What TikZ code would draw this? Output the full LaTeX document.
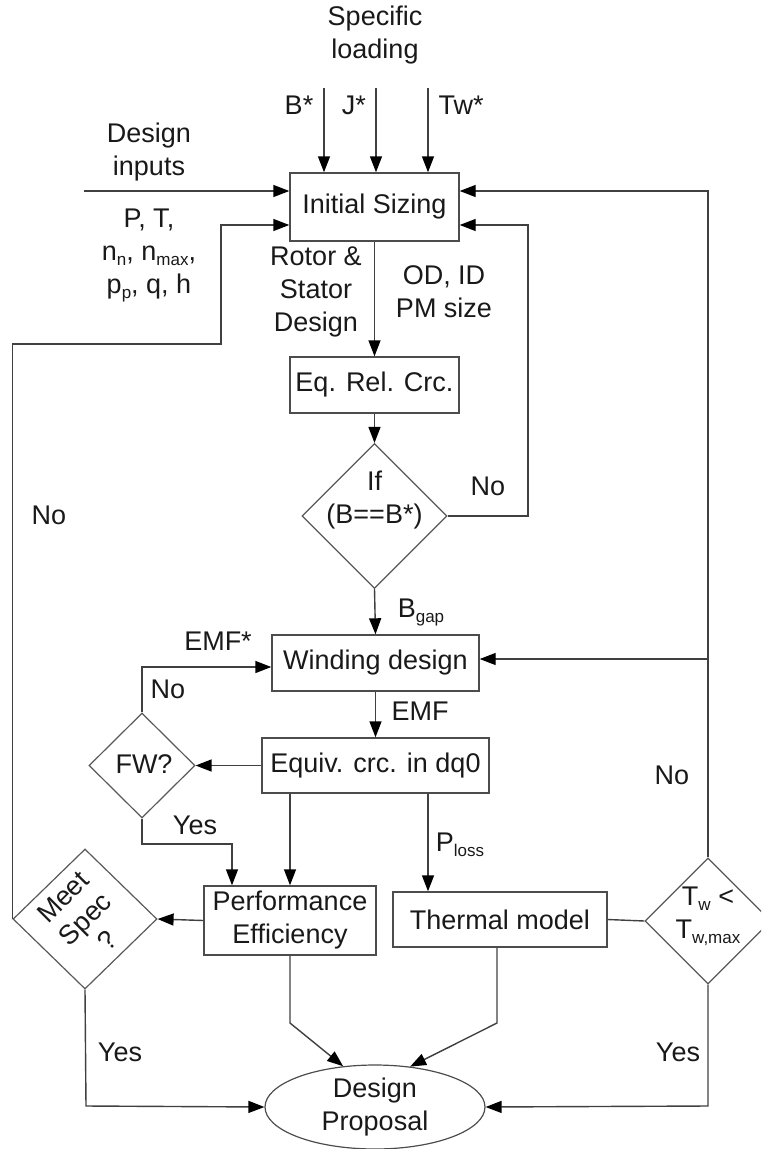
\documentclass[tikz,border=0pt]{standalone}
\usepackage{fontspec}
\setmainfont{Liberation Sans}
\usetikzlibrary{shapes.geometric,arrows.meta}
\newcommand\sbs[1]{\raisebox{-0.35ex}{\fontsize{17}{17}\selectfont #1}}
\begin{document}
\begin{tikzpicture}[x=1pt,y=-1pt,
  every node/.style={font=\fontsize{27}{33}\selectfont, text=black!90},
  box/.style={draw=black!70, line width=1.4pt, inner sep=0pt, align=center},
  dia/.style={draw=black!65, line width=1.2pt, shape=diamond, inner sep=0pt},
  lbl/.style={align=center, inner sep=0pt},
  ln/.style={draw=black!75, line width=1.4pt},
  arr/.style={ln, -{Triangle[length=16pt,width=12pt,color=black]}}]
\useasboundingbox (0,0) rectangle (761,1149);
\clip (0,0) rectangle (761,1149);

% boxes
\node[box, minimum width=169pt, minimum height=68pt] (init) at (374.5,207) {Initial Sizing};
\node[box, minimum width=169pt, minimum height=56pt] (eq) at (374.5,385) {Eq. Rel. Crc.};
\node[dia, minimum width=145pt, minimum height=145pt] (ifd) at (374.5,516) {};
\node[lbl] (ifdt) at (374.5,500) {If\\(B==B*)};
\node[box, minimum width=207pt, minimum height=56pt] (wind) at (375.5,663) {Winding design};
\node[box, minimum width=227pt, minimum height=55pt] (equiv) at (375.5,765.5) {Equiv. crc. in dq0};
\node[dia, minimum width=106pt, minimum height=105pt] (fw) at (142,765.5) {};
\node[lbl] (fwt) at (144,764) {FW?};
\node[box, minimum width=172pt, minimum height=69pt] (perf) at (290,920.5) {Performance\\Efficiency};
\node[box, minimum width=214pt, minimum height=55pt] (therm) at (500,919.5) {Thermal model};
\node[dia, minimum width=126pt, minimum height=126pt] (tw) at (708,921) {};
\node[lbl] (twt) at (708,916) {T\sbs{w} <\\T\sbs{w,max}};
\node[dia, minimum width=144pt, minimum height=140pt] (meet) at (85,919) {};
\node[lbl, rotate=45, font=\fontsize{27}{31}\selectfont] (meett) at (85,919) {Meet\\Spec\\?};
\node[draw=black!70, line width=1.2pt, ellipse, inner sep=0pt, minimum width=220pt, minimum height=84pt] (dp) at (375,1107) {};
\node[lbl] (dpt) at (375,1107) {Design\\Proposal};

% free labels
\node[lbl] (spec) at (375,35) {Specific\\loading};
\node[lbl] (bs) at (299,105) {B*};
\node[lbl] (js) at (354,105) {J*};
\node[lbl] (tws) at (461,105) {Tw*};
\node[lbl] (din) at (149,152) {Design\\inputs};
\node[lbl] (pt) at (149,255) {P, T,\\n\sbs{n}, n\sbs{max},\\p\sbs{p}, q, h};
\node[lbl] (rsd) at (316,292) {Rotor \&\\Stator\\Design};
\node[lbl] (odid) at (444,292) {OD, ID\\PM size};
\node[lbl] (no1) at (488,486) {No};
\node[lbl] (bgap) at (421,612) {B\sbs{gap}};
\node[lbl] (emfs) at (218,641) {EMF*};
\node[lbl] (no2) at (168,689) {No};
\node[lbl] (emf) at (420,711) {EMF};
\node[lbl] (no3) at (49,515) {No};
\node[lbl] (no4) at (672,775) {No};
\node[lbl] (yes1) at (195,825) {Yes};
\node[lbl] (ploss) at (460,845) {P\sbs{loss}};
\node[lbl] (yes2) at (120,1052) {Yes};
\node[lbl] (yes3) at (678,1052) {Yes};

% coordinates
\coordinate (tB) at (324,88);
\coordinate (tJ) at (376,88);
\coordinate (tT) at (428,88);
\coordinate (din0) at (84,191);
\coordinate (rl) at (528,225);
\coordinate (rr) at (708,191);
\coordinate (rw) at (708,659);
\coordinate (ll) at (13,344);
\coordinate (lu) at (221,225);
\coordinate (fwn) at (142,667);
\coordinate (fwy) at (232,844);
\coordinate (pl) at (428,0);
\coordinate (pd) at (290,1023);
\coordinate (td) at (497,1023);
\coordinate (ly) at (86,1106);
\coordinate (ry) at (708,1106);

% connectors
\draw[arr] (tB) -- (tB |- init.north);
\draw[arr] (tJ) -- (tJ |- init.north);
\draw[arr] (tT) -- (tT |- init.north);
\draw[arr] (din0) -- (din0 -| init.west);
\draw[arr] (init.south) -- (eq.north);
\draw[arr] (eq.south) -- (ifd.north);
\draw[arr] (ifd.east) -| (rl) -- (rl -| init.east);
\draw[arr] (ifd.south) -- (wind.north);
\draw[arr] (tw.north) -- (rr) -- (rr -| init.east);
\draw[arr] (rw) -- (rw -| wind.east);
\draw[arr] (wind.south) -- (equiv.north);
\draw[arr] (equiv.west) -- (fw.east);
\draw[arr] (fw.north) -- (fwn) -- (fwn -| wind.west);
\draw[arr] (fw.south) |- (fwy) -- (fwy |- perf.north);
\draw[arr] (perf.north |- equiv.south) -- (perf.north);
\draw[arr] (equiv.south -| pl) -- (therm.north -| pl);
\draw[arr] (perf.west) -- (meet.east);
\draw[ln] (therm.east) -- (tw.west);
\draw[arr] (meet.west) -- (meet.west |- ll) -- (ll -| lu) -- (lu) -- (lu -| init.west);
\draw[arr] (meet.south) -- (ly) -- (dp.west);
\draw[arr] (tw.south) -- (ry) -- (dp.east);
\draw[arr] (perf.south) -- (pd) -- (dp.128);
\draw[arr] (td |- therm.south) -- (td) -- (dp.49);
\end{tikzpicture}
\end{document}
